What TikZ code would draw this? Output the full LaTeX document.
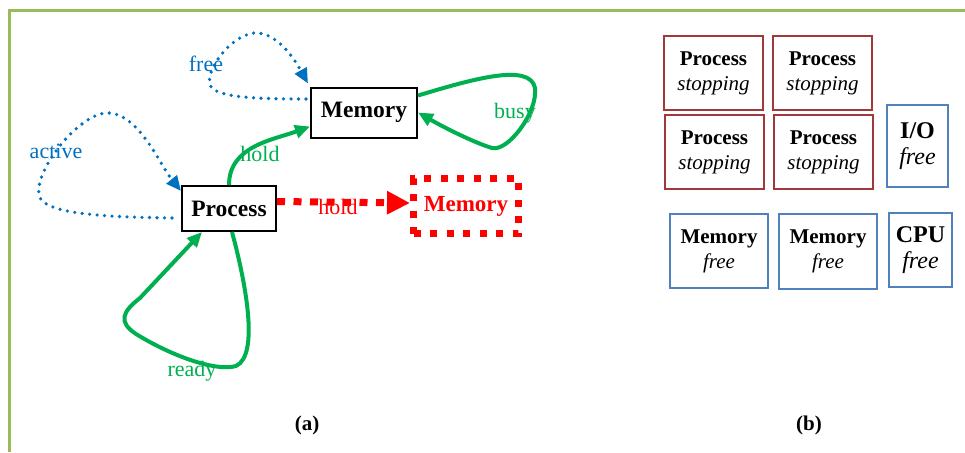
\documentclass[tikz,border=0pt]{standalone}
\usepackage{fontspec}
\setmainfont{Liberation Serif}
\usetikzlibrary{arrows.meta}
\definecolor{frameg}{RGB}{155,187,89}
\definecolor{arrblue}{RGB}{0,112,192}
\definecolor{arrgreen}{RGB}{0,176,80}
\definecolor{boxred}{RGB}{160,58,58}
\definecolor{boxblue}{RGB}{79,129,189}
\tikzset{
  bbox/.style={draw=black, line width=2pt, inner sep=0pt, font=\fontsize{23.5}{27}\selectfont\bfseries},
  redbox/.style={draw=red, line width=7pt, dash pattern=on 7pt off 9.5pt, inner sep=0pt, text=red, font=\fontsize{23}{27}\selectfont\bfseries},
  stopbox/.style={draw=boxred, line width=2.5pt, inner sep=0pt, align=center, minimum width=99pt, minimum height=74pt, font=\fontsize{21}{25}\selectfont},
  freebox/.style={draw=boxblue, line width=2.5pt, inner sep=0pt, align=center, font=\fontsize{21}{25}\selectfont},
  freesmall/.style={draw=boxblue, line width=2.5pt, inner sep=0pt, align=center, font=\fontsize{24}{26.5}\selectfont},
  bluedot/.style={draw=arrblue, line width=3.6pt, line cap=round, dash pattern=on 0pt off 7.5pt, -{Triangle[length=15pt,width=13pt,line cap=butt]}, shorten >=0pt},
  greenline/.style={draw=arrgreen, line width=4pt, -{Triangle[length=15pt,width=13pt]}},
  lbl/.style={font=\fontsize{22}{26}\selectfont, inner sep=0pt},
  captxt/.style={font=\fontsize{21}{25}\selectfont\bfseries, inner sep=0pt}
}
\begin{document}
\begin{tikzpicture}[x=1pt,y=-1pt]
\useasboundingbox (0,0) rectangle (965,452);
\draw[frameg, line width=2.5pt] (965,10.5) -- (9.5,10.5) -- (9.5,452);

% (a) nodes
\node[bbox, minimum width=94pt, minimum height=45pt] (proc) at (229,208.5) {Process};
\node[bbox, minimum width=106pt, minimum height=50pt] (mem) at (364,112.5) {Memory};
\node[redbox, minimum width=105pt, minimum height=55pt] (rmem) at (466,206) {Memory};

% red hold
\draw[red, line width=7pt, dash pattern=on 8pt off 8.5pt, -{Triangle[length=23pt,width=22pt]}] ([yshift=7pt]proc.east) -- ([yshift=3pt]rmem.west);
\node[lbl, text=red] (lhr) at (338,207) {hold};

% green hold
\draw[greenline] (proc.north) to[out=90, in=200] ([yshift=-14pt]mem.west);
\node[lbl, text=arrgreen] (lhg) at (260,154) {hold};

% busy loop
\draw[greenline] ([yshift=17pt]mem.east) .. controls (470,80) and (530,62) .. (535,88) .. controls (538,112) and (508,152) .. (492,148) .. controls (475,143) and (445,128) .. (mem.east);
\node[lbl, text=arrgreen] (lbusy) at (515,113) {busy};

% ready loop
\draw[greenline] ([xshift=3pt]proc.south) .. controls (245,280) and (260,355) .. (236,366) .. controls (215,372) and (170,355) .. (136,334) .. controls (118,322) and (122,312) .. (140,298) -- ([xshift=-27pt]proc.south);
\node[lbl, text=arrgreen] (lready) at (192,371) {ready};

% free loop
\draw[bluedot] ([xshift=-4pt,yshift=13.5pt]mem.west) .. controls (260,99) and (215,98) .. (210,85) .. controls (205,68) and (235,31) .. (258,33) .. controls (280,35) and (296,62) .. ([xshift=-2pt,yshift=3pt]mem.north west);
\node[lbl, text=arrblue] (lfree) at (206,64) {free};

% active loop
\draw[bluedot] ([xshift=-9pt,yshift=-9.5pt]proc.west) .. controls (120,217) and (50,216) .. (40,198) .. controls (30,175) and (80,110) .. (110,113) .. controls (140,116) and (160,165) .. ([yshift=-6pt]proc.north west);
\node[lbl, text=arrblue] (lactive) at (56,151) {active};

\node[captxt] (capa) at (307,425) {(a)};

% (b)
\node[stopbox] (ps1) at (713.5,73) {\textbf{Process}\\\textit{stopping}};
\node[stopbox] (ps2) at (822.5,73) {\textbf{Process}\\\textit{stopping}};
\node[stopbox] (ps3) at (714.5,152) {\textbf{Process}\\\textit{stopping}};
\node[stopbox] (ps4) at (823.5,152) {\textbf{Process}\\\textit{stopping}};
\node[freesmall, minimum width=61pt, minimum height=82pt] (io) at (917.5,146) {\textbf{I/O}\\\textit{free}};
\node[freebox, minimum width=98pt, minimum height=74pt] (mf1) at (719,251) {\textbf{Memory}\\\textit{free}};
\node[freebox, minimum width=98pt, minimum height=75pt] (mf2) at (828,251.5) {\textbf{Memory}\\\textit{free}};
\node[freesmall, minimum width=63pt, minimum height=74pt] (cpu) at (920.5,250) {\textbf{CPU}\\\textit{free}};

\node[captxt] (capb) at (809,425) {(b)};
\end{tikzpicture}
\end{document}
